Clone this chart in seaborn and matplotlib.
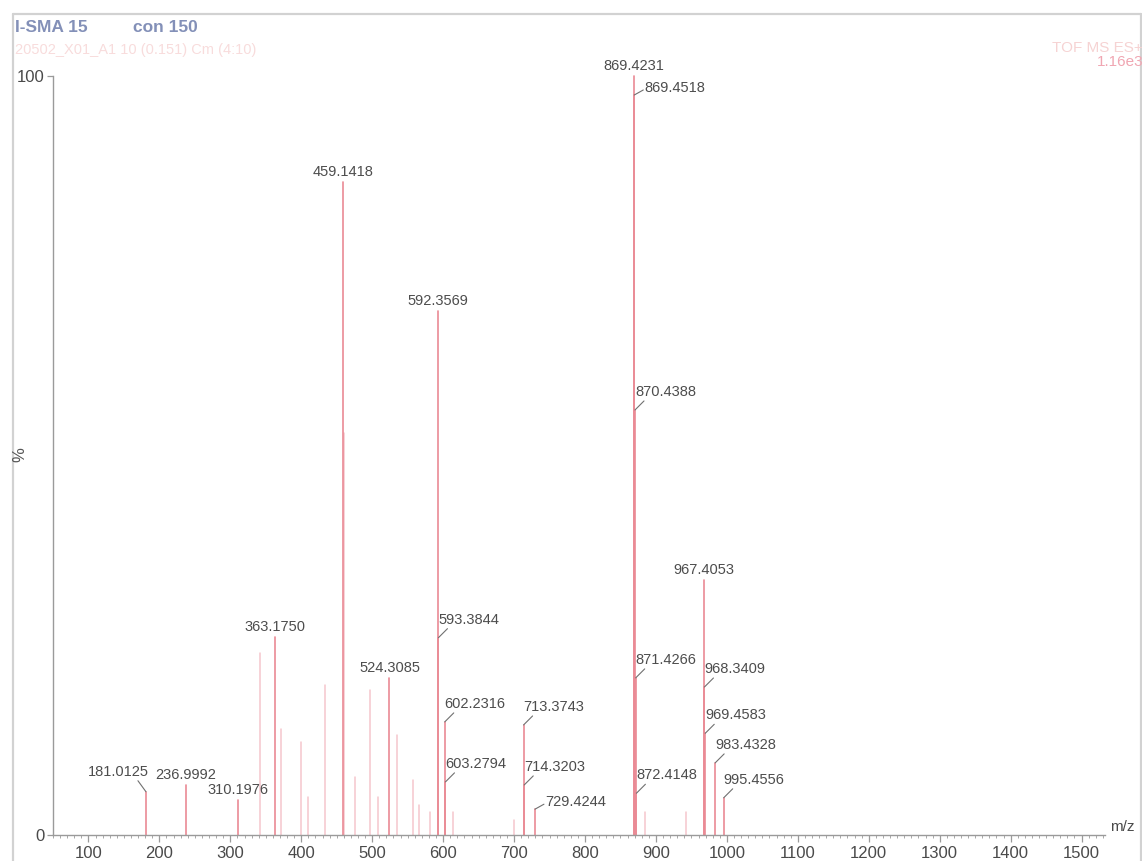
import matplotlib
matplotlib.use("Agg")
import matplotlib.pyplot as plt
from matplotlib.lines import Line2D
from matplotlib.ticker import MultipleLocator, FixedLocator
import pandas as pd
import seaborn as sns

# Labelled centroid peaks: m/z and relative intensity (%)
label_mz = [181.0125, 236.9992, 310.1976, 363.1750, 459.1418, 524.3085,
            592.3569, 593.3844, 602.2316, 603.2794, 713.3743, 714.3203,
            729.4244, 869.4231, 869.4518, 870.4388, 871.4266, 872.4148,
            967.4053, 968.3409, 969.4583, 983.4328, 995.4556]
label_pct = [5.7, 6.6, 4.6, 26.1, 86.0, 20.7,
             69.0, 26.0, 14.9, 7.0, 14.5, 6.6,
             3.4, 100.0, 97.5, 56.0, 20.7, 5.5,
             33.6, 19.5, 13.4, 9.5, 4.9]
# where each peak label sits relative to its stick
label_place = ["left", "top", "top", "top", "top", "top",
               "top", "right", "right", "right", "right", "right",
               "near", "top", "near", "right", "right", "right",
               "top", "right", "right", "right", "right"]

# Unlabelled minor peaks
minor_mz = [342.0, 372.0, 399.0, 410.0, 434.0, 460.14, 476.0, 497.0,
            508.0, 535.0, 558.0, 566.0, 581.0, 614.0, 700.0, 885.0, 942.0]
minor_pct = [24.0, 14.0, 12.3, 5.0, 19.8, 53.0, 7.6, 19.1,
             5.0, 13.2, 7.2, 4.0, 3.0, 3.0, 2.0, 3.0, 3.0]

x_ticks = list(range(100, 1600, 100))
y_ticks = [0, 100]

sns.set_theme(style="white")
plt.rcParams["font.family"] = ["Liberation Sans", "DejaVu Sans"]

W, H = 1142, 861
fig = plt.figure(figsize=(W / 100, H / 100), dpi=100)


def fx(px):
    return px / W


def fy(py):
    return 1 - py / H


ax = fig.add_axes([fx(53), fy(835), fx(1105) - fx(53), fy(76) - fy(835)])


def sticks(mzs, pcts, tag):
    rows = []
    for i, (m, p) in enumerate(zip(mzs, pcts)):
        rows.append({"peak": f"{tag}{i}", "mz": m, "pct": 0.0})
        rows.append({"peak": f"{tag}{i}", "mz": m, "pct": p})
    return pd.DataFrame(rows)


sns.lineplot(data=sticks(minor_mz, minor_pct, "m"), x="mz", y="pct",
             units="peak", estimator=None, sort=False, color="#f5c6cd",
             lw=1.1, ax=ax, legend=False)
sns.lineplot(data=sticks(label_mz, label_pct, "p"), x="mz", y="pct",
             units="peak", estimator=None, sort=False, color="#ea8a95",
             lw=1.2, ax=ax, legend=False)
for ln in ax.lines:
    ln.set_clip_on(False)

ax.set_xlim(50, 1533)
ax.set_ylim(0, 100)

# peak annotations
txt_kw = dict(fontsize=10.5, color="#4d4d4d", textcoords="offset pixels")
lead_kw = dict(arrowstyle="-", color="#707070", lw=0.8, shrinkA=0, shrinkB=0)
for m, p, place in zip(label_mz, label_pct, label_place):
    lab = f"{m:.4f}"
    if place == "top":
        ax.annotate(lab, (m, p), xytext=(0, 3), ha="center", va="bottom",
                    annotation_clip=False, **txt_kw)
    elif place == "right":
        ax.annotate("", (m, p), xytext=(9, 9), textcoords="offset pixels",
                    arrowprops=lead_kw, annotation_clip=False)
        ax.annotate(lab, (m, p), xytext=(0, 11), ha="left", va="bottom",
                    annotation_clip=False, **txt_kw)
    elif place == "left":
        ax.annotate("", (m, p), xytext=(-8, 11), textcoords="offset pixels",
                    arrowprops=lead_kw, annotation_clip=False)
        ax.annotate(lab, (m, p), xytext=(3, 13), ha="right", va="bottom",
                    annotation_clip=False, **txt_kw)
    else:
        ax.annotate("", (m, p), xytext=(9, 5), textcoords="offset pixels",
                    arrowprops=lead_kw, annotation_clip=False)
        ax.annotate(lab, (m, p), xytext=(10, 7), ha="left", va="center",
                    annotation_clip=False, **txt_kw)

# axes styling
for side in ("top", "right"):
    ax.spines[side].set_visible(False)
for side in ("left", "bottom"):
    ax.spines[side].set_color("#9a9a9a")
    ax.spines[side].set_linewidth(1.0)

ax.xaxis.set_major_locator(FixedLocator(x_ticks))
ax.xaxis.set_minor_locator(MultipleLocator(10))
ax.yaxis.set_major_locator(FixedLocator(y_ticks))
ax.tick_params(axis="x", which="major", direction="out", length=5, width=0.9,
               color="#9a9a9a", labelsize=12, labelcolor="#4a4a4a", pad=3,
               bottom=True)
ax.tick_params(axis="x", which="minor", direction="out", length=2.5,
               width=0.7, color="#a8a8a8", bottom=True)
ax.tick_params(axis="y", which="major", direction="out", length=4, width=0.9,
               color="#9a9a9a", labelsize=12, labelcolor="#4a4a4a", pad=2,
               left=True)
ax.set_xticklabels([str(t) for t in x_ticks])
ax.set_yticklabels([str(t) for t in y_ticks])
ax.set_xlabel("")
ax.set_ylabel("")

fig.text(fx(20), fy(455), "%", rotation=90, fontsize=12, color="#555555",
         ha="center", va="center")
fig.text(fx(1110), fy(827), "m/z", fontsize=11, color="#4a4a4a",
         ha="left", va="center")

# acquisition header
fig.text(fx(15), fy(27), "I-SMA 15", fontsize=12.5, weight="bold",
         color="#8390b8", va="center")
fig.text(fx(133), fy(27), "con 150", fontsize=12.5, weight="bold",
         color="#8390b8", va="center")
fig.text(fx(15), fy(50), "20502_X01_A1 10 (0.151) Cm (4:10)", fontsize=10.5,
         color="#f8dcdc", va="center")
fig.text(fx(1143), fy(48), "TOF MS ES+", fontsize=11, color="#f6d3d3",
         ha="right", va="center")
fig.text(fx(1143), fy(62), "1.16e3", fontsize=11, color="#f0a6b2",
         ha="right", va="center")

# page frame
frame_kw = dict(color="#d2d2d2", lw=1.6, transform=fig.transFigure)
fig.add_artist(Line2D([fx(13), fx(1141)], [fy(14), fy(14)], **frame_kw))
fig.add_artist(Line2D([fx(13), fx(13)], [fy(14), 0], **frame_kw))
fig.add_artist(Line2D([fx(1141), fx(1141)], [fy(14), 0], **frame_kw))

fig.savefig("out.png", dpi=100)
